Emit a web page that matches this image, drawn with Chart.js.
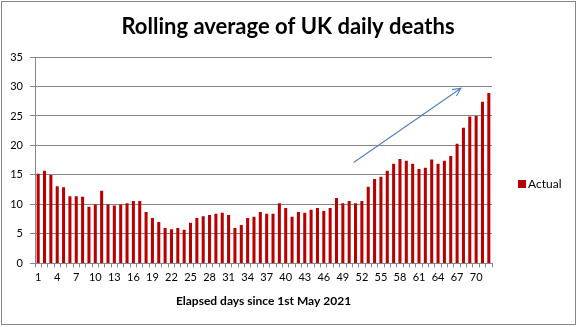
<!DOCTYPE html>
<html>
<head>
<meta charset="utf-8">
<script src="https://cdn.jsdelivr.net/npm/chart.js@4/dist/chart.umd.min.js"></script>
<style>
  body { margin: 0; background: #fff; }
  #wrap { width: 578px; height: 327px; position: relative; }
</style>
</head>
<body>
<div id="wrap"><canvas id="myChart"></canvas></div>
<script>
// Rolling average of UK daily deaths, day 1 = 1st May 2021
const days = Array.from({ length: 72 }, (_, i) => String(i + 1));
const actual = [
    15.2, 15.7, 15.0, 13.1, 12.9, 11.4, 11.4, 11.3, 9.6, 10.0,
    12.3, 10.0, 9.8, 10.0, 10.2, 10.6, 10.6, 8.7, 7.7, 7.0,
    6.0, 5.8, 6.0, 5.7, 6.9, 7.7, 8.0, 8.2, 8.4, 8.6,
    8.2, 6.0, 6.5, 7.7, 7.9, 8.7, 8.4, 8.4, 10.2, 9.4,
    7.9, 8.7, 8.6, 9.1, 9.4, 8.9, 9.4, 11.1, 10.2, 10.6,
    10.2, 10.6, 13.0, 14.3, 14.7, 15.7, 16.9, 17.7, 17.4, 16.9,
    16.0, 16.2, 17.6, 16.9, 17.4, 18.2, 20.3, 23.0, 24.9, 25.0,
    27.4, 28.9
];
const yTicks = [0, 5, 10, 15, 20, 25, 30, 35];
// trend arrow, in data units: [category index, value]
const arrowFrom = [49.7, 17.1];
const arrowTo = [66.6, 29.7];
const chartTitle = 'Rolling average of UK daily deaths';

const FONT = 'Lato, "Open Sans", sans-serif';
const gridGrey = '#868686';

// frame, title, trend arrow and legend
const extras = {
    id: 'extras',
    afterDraw(chart) {
        const ctx = chart.ctx;
        const x = chart.scales.x, y = chart.scales.y;
        ctx.save();
        // outer frame
        ctx.strokeStyle = gridGrey;
        ctx.lineWidth = 1;
        ctx.strokeRect(1.5, 1.5, 574, 323);

        // title, centred on the whole picture
        ctx.fillStyle = '#000';
        ctx.font = 'bold 22px ' + FONT;
        ctx.textAlign = 'center';
        ctx.textBaseline = 'middle';
        ctx.fillText(chartTitle, 288, 27);

        // arrow
        const x1 = x.getPixelForValue(arrowFrom[0]), y1 = y.getPixelForValue(arrowFrom[1]);
        const x2 = x.getPixelForValue(arrowTo[0]), y2 = y.getPixelForValue(arrowTo[1]);
        const ang = Math.atan2(y2 - y1, x2 - x1);
        ctx.strokeStyle = '#4F81BD';
        ctx.lineWidth = 1.1;
        ctx.beginPath();
        ctx.moveTo(x1, y1);
        ctx.lineTo(x2, y2);
        ctx.moveTo(x2 - 9 * Math.cos(ang - 0.45), y2 - 9 * Math.sin(ang - 0.45));
        ctx.lineTo(x2, y2);
        ctx.lineTo(x2 - 9 * Math.cos(ang + 0.45), y2 - 9 * Math.sin(ang + 0.45));
        ctx.stroke();

        // legend
        const ds = chart.data.datasets[0];
        const lx = chart.chartArea.right + 26, ly = 184;
        ctx.fillStyle = ds.backgroundColor;
        ctx.fillRect(lx, ly - 4, 8, 8);
        ctx.fillStyle = '#000';
        ctx.font = '12px ' + FONT;
        ctx.textAlign = 'left';
        ctx.fillText(ds.label, lx + 10, ly);
        ctx.restore();
    }
};

const ctx = document.getElementById('myChart').getContext('2d');
const myChart = new Chart(ctx, {
    type: 'bar',
    data: {
        labels: days,
        datasets: [{
            label: 'Actual',
            data: actual,
            backgroundColor: '#B80000',
            categoryPercentage: 1,
            barPercentage: 0.48
        }]
    },
    options: {
        responsive: true,
        maintainAspectRatio: false,
        animation: false,
        layout: { padding: { left: 0, right: 86, top: 57, bottom: 19 } },
        plugins: {
            legend: { display: false },
            tooltip: { enabled: false },
            title: { display: false }
        },
        scales: {
            x: {
                grid: { drawOnChartArea: false, tickLength: 4, color: gridGrey, offset: true },
                border: { color: gridGrey },
                ticks: {
                    autoSkip: false,
                    maxRotation: 0,
                    padding: 3,
                    color: '#000',
                    font: { family: FONT, size: 11 },
                    callback: (v, i) => (i % 3 === 0 ? days[i] : '')
                },
                title: {
                    display: true,
                    text: 'Elapsed days since 1st May 2021',
                    color: '#000',
                    font: { family: FONT, size: 12, weight: 'bold' },
                    padding: { top: 7, bottom: 0 }
                }
            },
            y: {
                min: 0,
                max: 35,
                afterBuildTicks: (s) => { s.ticks = yTicks.map(v => ({ value: v })); },
                grid: { color: gridGrey, tickLength: 5 },
                border: { color: gridGrey },
                ticks: {
                    padding: 7,
                    color: '#000',
                    font: { family: FONT, size: 11 }
                },
                afterFit: (s) => { s.width = 35; }
            }
        }
    },
    plugins: [extras]
});
</script>
</body>
</html>
